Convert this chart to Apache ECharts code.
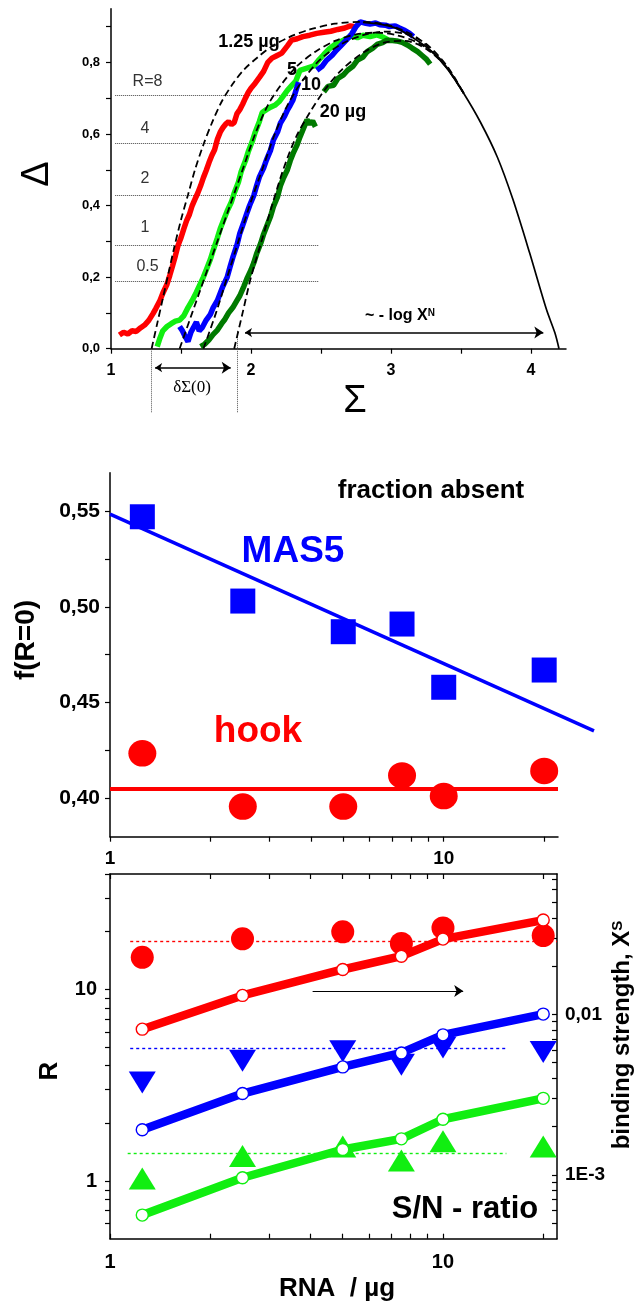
<!DOCTYPE html>
<html>
<head>
<meta charset="utf-8">
<title>Hook curves, fraction absent and S/N ratio vs RNA amount</title>
<script src="https://cdn.jsdelivr.net/npm/echarts@6.0.0/dist/echarts.min.js"></script>
<style>
  html, body { margin: 0; padding: 0; background: #fff; }
  #chart { width: 636px; height: 1308px; }
</style>
</head>
<body>
<div id="chart"></div>
<script>
// ---------- top panel: Delta vs Sigma, [Sigma, Delta] pairs
const hook125 = [[1.06,0.038],[1.09,0.046],[1.12,0.041],[1.15,0.05],[1.18,0.048],[1.21,0.058],[1.24,0.066],[1.27,0.079],[1.30,0.098],[1.32,0.112],[1.35,0.135],[1.37,0.155],[1.40,0.18],[1.42,0.205],[1.44,0.232],[1.46,0.26],[1.48,0.29],[1.50,0.31],[1.52,0.335],[1.54,0.358],[1.56,0.375],[1.58,0.40],[1.60,0.418],[1.62,0.435],[1.64,0.455],[1.66,0.478],[1.68,0.498],[1.70,0.52],[1.72,0.54],[1.74,0.556],[1.76,0.585],[1.78,0.605],[1.80,0.618],[1.82,0.628],[1.84,0.634],[1.86,0.626],[1.88,0.632],[1.90,0.657],[1.92,0.668],[1.94,0.683],[1.96,0.70],[1.98,0.716],[2.00,0.728],[2.03,0.742],[2.06,0.758],[2.09,0.775],[2.12,0.80],[2.15,0.812],[2.18,0.818],[2.22,0.826],[2.26,0.846],[2.29,0.862],[2.33,0.866],[2.37,0.872],[2.42,0.876],[2.47,0.881],[2.52,0.884],[2.57,0.887],[2.62,0.892],[2.67,0.896],[2.71,0.902],[2.74,0.90]];
const hook5 = [[1.33,0.006],[1.35,0.03],[1.37,0.05],[1.40,0.062],[1.43,0.07],[1.46,0.077],[1.49,0.08],[1.52,0.092],[1.55,0.115],[1.58,0.135],[1.61,0.158],[1.63,0.175],[1.66,0.20],[1.68,0.22],[1.71,0.25],[1.73,0.275],[1.76,0.31],[1.78,0.335],[1.81,0.365],[1.83,0.385],[1.86,0.41],[1.88,0.435],[1.91,0.465],[1.93,0.495],[1.96,0.525],[1.98,0.55],[2.01,0.58],[2.03,0.605],[2.06,0.635],[2.08,0.66],[2.11,0.668],[2.14,0.675],[2.17,0.68],[2.20,0.69],[2.23,0.706],[2.26,0.722],[2.29,0.735],[2.32,0.748],[2.35,0.778],[2.40,0.784],[2.45,0.79],[2.48,0.805],[2.52,0.822],[2.56,0.838],[2.60,0.85],[2.64,0.858],[2.68,0.866],[2.72,0.874],[2.76,0.869],[2.80,0.876],[2.85,0.872],[2.90,0.877],[2.94,0.871],[2.98,0.863]];
const hook10Low = [[1.49,0.062],[1.51,0.05],[1.53,0.034],[1.55,0.02],[1.57,0.045],[1.59,0.06],[1.61,0.074],[1.63,0.05],[1.65,0.058],[1.68,0.08],[1.71,0.096],[1.73,0.115],[1.76,0.135],[1.78,0.155],[1.80,0.175],[1.83,0.20],[1.85,0.228],[1.87,0.255],[1.90,0.29],[1.92,0.322],[1.95,0.355],[1.97,0.378],[1.99,0.40],[2.02,0.428],[2.04,0.455],[2.06,0.48],[2.09,0.505],[2.11,0.527],[2.14,0.555],[2.16,0.583],[2.19,0.606],[2.21,0.63],[2.24,0.65],[2.26,0.667],[2.28,0.68],[2.30,0.695],[2.32,0.72],[2.34,0.745]];
const hook10High = [[2.47,0.778],[2.51,0.79],[2.54,0.806],[2.58,0.82],[2.61,0.834],[2.65,0.85],[2.68,0.862],[2.72,0.88],[2.75,0.90],[2.78,0.913],[2.82,0.909],[2.85,0.907],[2.89,0.91],[2.92,0.905],[2.96,0.904],[2.99,0.90],[3.03,0.902],[3.06,0.896],[3.10,0.889],[3.13,0.882],[3.16,0.872]];
const hook20Low = [[1.64,0.006],[1.67,0.013],[1.70,0.025],[1.73,0.04],[1.76,0.052],[1.79,0.07],[1.81,0.08],[1.84,0.10],[1.87,0.115],[1.90,0.135],[1.92,0.148],[1.95,0.175],[1.97,0.195],[2.00,0.22],[2.02,0.24],[2.04,0.265],[2.07,0.295],[2.09,0.32],[2.11,0.34],[2.14,0.37],[2.16,0.397],[2.19,0.425],[2.21,0.455],[2.23,0.475],[2.26,0.50],[2.28,0.525],[2.30,0.545],[2.33,0.57],[2.35,0.592],[2.38,0.62],[2.40,0.64],[2.42,0.628],[2.44,0.636],[2.46,0.62]];
const hook20High = [[2.52,0.718],[2.55,0.733],[2.59,0.736],[2.62,0.755],[2.66,0.765],[2.69,0.778],[2.73,0.79],[2.76,0.806],[2.80,0.815],[2.83,0.83],[2.87,0.84],[2.90,0.85],[2.94,0.855],[2.97,0.862],[3.01,0.861],[3.04,0.86],[3.08,0.856],[3.12,0.848],[3.15,0.84],[3.19,0.83],[3.22,0.82],[3.25,0.81],[3.28,0.795]];

// dashed fits and the common solid envelope
const fit125 = [[1.29,0],[1.33,0.07],[1.37,0.14],[1.41,0.21],[1.45,0.28],[1.50,0.36],[1.55,0.43],[1.60,0.50],[1.66,0.57],[1.72,0.63],[1.79,0.69],[1.87,0.74],[1.95,0.78],[2.05,0.815],[2.15,0.845],[2.27,0.87],[2.42,0.892],[2.6,0.908],[2.8,0.913],[3.0,0.902],[3.2,0.865],[3.4,0.785],[3.52,0.713]];
const fit5 = [[1.49,0],[1.58,0.1],[1.67,0.2],[1.76,0.3],[1.85,0.4],[1.94,0.5],[2.03,0.6],[2.12,0.68],[2.22,0.74],[2.33,0.79],[2.46,0.83],[2.6,0.86],[2.75,0.878],[2.9,0.883],[3.05,0.875],[3.2,0.853],[3.35,0.81],[3.52,0.713]];
const fit10 = [[1.66,0],[1.75,0.1],[1.83,0.2],[1.91,0.3],[1.99,0.4],[2.08,0.5],[2.17,0.6],[2.26,0.68],[2.37,0.75],[2.5,0.81],[2.65,0.852],[2.8,0.876],[2.95,0.886],[3.1,0.88],[3.25,0.852],[3.4,0.79],[3.52,0.713]];
const fit20 = [[1.88,0],[1.94,0.1],[2.0,0.2],[2.075,0.3],[2.15,0.4],[2.23,0.5],[2.32,0.59],[2.42,0.66],[2.53,0.725],[2.65,0.78],[2.8,0.827],[2.95,0.855],[3.1,0.86],[3.25,0.838],[3.4,0.785],[3.52,0.713]];
const envelope = [[2.8,0.912],[2.92,0.907],[3.04,0.895],[3.16,0.868],[3.28,0.834],[3.4,0.783],[3.52,0.713],[3.64,0.632],[3.76,0.535],[3.87,0.418],[3.99,0.268],[4.11,0.11],[4.17,0.045],[4.2,0.0]];

const rLevels = [0.707, 0.574, 0.429, 0.289, 0.189];
const rLevelNames = ['R=8', '4', '2', '1', '0.5'];
const sigmaMarks = [1.29, 1.90];          // dotted verticals of dSigma(0)
const dSigmaArrow = [1.315, 1.855];
const logXnArrow = [1.957, 4.088];

const sigmaTicks = [1, 1.5, 2, 2.5, 3, 3.5, 4];
const sigmaLabels = [1, 2, 3, 4];
const deltaTicks = [0, 0.1, 0.2, 0.3, 0.4, 0.5, 0.6, 0.7, 0.8, 0.9];
const deltaLabels = [0, 0.2, 0.4, 0.6, 0.8];

// ---------- middle panel: fraction absent
const rnaAmount = [1.25, 2.5, 5, 7.5, 10, 20];
const absentMas5 = [0.547, 0.503, 0.487, 0.491, 0.458, 0.467];
const absentHook = [0.4235, 0.3957, 0.3957, 0.412, 0.4012, 0.4143];
const mas5Fit = [[1, 0.5484], [28.2, 0.4352]];
const hookFit = [[1, 0.405], [22, 0.405]];
const fracTicks = [0.40, 0.425, 0.45, 0.475, 0.50, 0.525, 0.55];
const fracLabels = [0.40, 0.45, 0.50, 0.55];

// ---------- bottom panel: S/N ratio (left) and binding strength (right)
const snRed = [6.2, 9.3, 12.7, 14.9, 18.3, 23.0];
const snBlue = [1.85, 2.86, 3.94, 4.66, 5.79, 7.43];
const snGreen = [0.664, 1.04, 1.46, 1.66, 2.10, 2.70];
const xsRed = [0.0227, 0.0296, 0.0327, 0.0277, 0.0346, 0.0310];
const xsBlue = [0.00377, 0.00515, 0.00589, 0.00486, 0.00621, 0.00584];
const xsGreen = [0.000948, 0.00131, 0.00150, 0.00123, 0.00162, 0.00150];
const xsLevels = [0.0285, 0.00612, 0.00137];
const xsLevelSpan = [[1.15, 22], [1.15, 15.5], [1.13, 15.5]];
const snArrow = [[4.06, 9.8], [11.5, 9.8]];

const rnaTicks = [1, 2, 3, 4, 5, 6, 7, 8, 9, 10, 20];
const rnaLabels = [1, 10];
const rTicks = [0.6, 0.7, 0.8, 0.9, 1, 2, 3, 4, 5, 6, 7, 8, 9, 10, 20, 30, 40];
const rLabels = [1, 10];
const xsTicks = [0.0005, 0.0006, 0.0007, 0.0008, 0.0009, 0.001, 0.002, 0.003, 0.004, 0.005, 0.006, 0.007, 0.008, 0.009, 0.01, 0.02, 0.03, 0.04, 0.05, 0.06, 0.07];
const xsLabels = [0.001, 0.01];
const xsLabelText = { '-3': '1E-3', '-2': '0,01' };

const RNA_MIN = 1, RNA_MAX = 22;
const R_MIN = 0.5, R_MAX = 40;
const XS_MIN = 0.0004, XS_MAX = 0.075;

const RED = '#ff0000', BLUE = '#0000ff', GREEN = '#11ee11', DKGREEN = '#007a00';
const FONT = '"Liberation Sans", Arial, Helvetica, sans-serif';
const lg = Math.log10;

const comma = (d) => (v) => v.toFixed(d).replace('.', ',');

function axisLine() {
  return { show: true, onZero: false, lineStyle: { color: '#000', width: 1.5 } };
}
function ticks(values, inside) {
  return { show: true, inside: !!inside, length: 5, customValues: values, lineStyle: { color: '#000', width: 1.2 } };
}
function labels(values, fmt, size, margin) {
  return { show: true, customValues: values, formatter: fmt, fontFamily: FONT, fontWeight: 'bold',
    fontSize: size, color: '#000', margin: margin };
}
function hidden(type, grid, min, max) {
  return { type: type, gridIndex: grid, min: min, max: max, show: false, logBase: 10,
    axisLine: { onZero: false }, splitLine: { show: false } };
}

const chart = echarts.init(document.getElementById('chart'));

function trace(points, color) {
  return { type: 'line', xAxisIndex: 0, yAxisIndex: 0, data: points, symbol: 'none',
    lineStyle: { color: color, width: 5.5 }, z: 3 };
}
function fit(points) {
  return { type: 'line', xAxisIndex: 0, yAxisIndex: 0, data: points, symbol: 'none', smooth: 0.3,
    lineStyle: { color: '#000', width: 1.8, type: [7, 4] }, z: 4 };
}
function snLine(values, color) {
  return { type: 'line', xAxisIndex: 3, yAxisIndex: 2, data: rnaAmount.map((x, i) => [x, values[i]]),
    symbol: 'circle', symbolSize: 12, showSymbol: true,
    itemStyle: { color: '#fff', borderColor: color, borderWidth: 1.4, opacity: 1 },
    lineStyle: { color: color, width: 8.5 }, z: 5 };
}
function xsPoints(values, color, symbol, size, rotate) {
  return { type: 'scatter', xAxisIndex: 3, yAxisIndex: 4, data: rnaAmount.map((x, i) => [x, values[i]]),
    symbol: symbol, symbolSize: size, symbolRotate: rotate || 0, itemStyle: { color: color, opacity: 1 }, z: 3 };
}
function xsLevel(i, color) {
  return { type: 'lines', coordinateSystem: 'cartesian2d', xAxisIndex: 3, yAxisIndex: 4, z: 1,
    lineStyle: { color: color, width: 1.4, type: [3, 3], opacity: 1 },
    data: [{ coords: [[xsLevelSpan[i][0], xsLevels[i]], [xsLevelSpan[i][1], xsLevels[i]]] }] };
}

function text(str, x, y, size, opts) {
  opts = opts || {};
  return {
    type: 'text', x: x, y: y, rotation: opts.rotate || 0, z: 100,
    style: {
      text: str, fill: opts.color || '#000',
      font: (opts.bold === false ? '' : 'bold ') + size + 'px ' + (opts.family || FONT),
      textAlign: opts.align || 'center', textVerticalAlign: 'middle',
      align: opts.align || 'center', verticalAlign: 'middle',
      rich: opts.rich
    }
  };
}

const option = {
  animation: false,
  backgroundColor: '#fff',
  grid: [
    { left: 111, top: 8.7, width: 455, height: 340 },
    { left: 110, top: 472.7, width: 448, height: 364 },
    { left: 110, top: 874, width: 447, height: 364.7 }
  ],
  xAxis: [
    { type: 'value', gridIndex: 0, min: 1, max: 4.25, position: 'bottom',
      axisLine: axisLine(), axisTick: ticks(sigmaTicks), splitLine: { show: false },
      axisLabel: labels(sigmaLabels, (v) => String(v), 16, 14) },
    hidden('log', 1, RNA_MIN, RNA_MAX),
    { type: 'value', gridIndex: 1, min: 0, max: lg(RNA_MAX), position: 'bottom',
      axisLine: axisLine(), axisTick: ticks(rnaTicks.map(lg)), splitLine: { show: false },
      axisLabel: labels(rnaLabels.map(lg), (v) => String(Math.round(Math.pow(10, v))), 19, 13) },
    hidden('log', 2, RNA_MIN, RNA_MAX),
    { type: 'value', gridIndex: 2, min: 0, max: lg(RNA_MAX), position: 'bottom',
      axisLine: axisLine(), axisTick: ticks(rnaTicks.map(lg), true), splitLine: { show: false },
      axisLabel: labels(rnaLabels.map(lg), (v) => String(Math.round(Math.pow(10, v))), 20, 14) },
    { type: 'value', gridIndex: 2, min: 0, max: lg(RNA_MAX), position: 'top',
      axisLine: axisLine(), axisTick: ticks(rnaTicks.map(lg), true), splitLine: { show: false },
      axisLabel: { show: false } }
  ],
  yAxis: [
    { type: 'value', gridIndex: 0, min: 0, max: 0.95, position: 'left',
      axisLine: axisLine(), axisTick: ticks(deltaTicks), splitLine: { show: false },
      axisLabel: labels(deltaLabels, comma(1), 13, 11) },
    { type: 'value', gridIndex: 1, min: 0.38, max: 0.57, position: 'left',
      axisLine: axisLine(), axisTick: ticks(fracTicks), splitLine: { show: false },
      axisLabel: labels(fracLabels, comma(2), 21, 10) },
    hidden('log', 2, R_MIN, R_MAX),
    { type: 'value', gridIndex: 2, min: lg(R_MIN), max: lg(R_MAX), position: 'left',
      axisLine: axisLine(), axisTick: ticks(rTicks.map(lg)), splitLine: { show: false },
      axisLabel: labels(rLabels.map(lg), (v) => String(Math.round(Math.pow(10, v))), 20, 13) },
    hidden('log', 2, XS_MIN, XS_MAX),
    { type: 'value', gridIndex: 2, min: lg(XS_MIN), max: lg(XS_MAX), position: 'right',
      axisLine: axisLine(), axisTick: ticks(xsTicks.map(lg), true), splitLine: { show: false },
      axisLabel: labels(xsLabels.map(lg), (v) => xsLabelText[String(Math.round(v))], 19, 8) }
  ],
  series: [
    // ----- top panel
    { type: 'lines', coordinateSystem: 'cartesian2d', xAxisIndex: 0, yAxisIndex: 0, z: 1,
      lineStyle: { color: '#444', width: 1, type: 'dotted', opacity: 1 },
      data: rLevels.map((v) => ({ coords: [[1.03, v], [2.48, v]] })) },
    { type: 'lines', coordinateSystem: 'cartesian2d', xAxisIndex: 0, yAxisIndex: 0, z: 1, clip: false,
      lineStyle: { color: '#555', width: 1, type: 'dotted', opacity: 1 },
      data: sigmaMarks.map((s, i) => ({ coords: [[s, i === 0 ? 0 : 0.05], [s, -0.18]] })) },
    trace(hook125, RED),
    trace(hook5, GREEN),
    trace(hook10Low, BLUE),
    trace(hook10High, BLUE),
    trace(hook20Low, DKGREEN),
    trace(hook20High, DKGREEN),
    fit(fit125), fit(fit5), fit(fit10), fit(fit20),
    { type: 'line', xAxisIndex: 0, yAxisIndex: 0, data: envelope, symbol: 'none', smooth: 0.3,
      lineStyle: { color: '#000', width: 1.7 }, z: 4 },
    { type: 'lines', coordinateSystem: 'cartesian2d', xAxisIndex: 0, yAxisIndex: 0, clip: false, z: 6,
      symbol: ['arrow', 'arrow'], symbolSize: [7, 9],
      lineStyle: { color: '#000', width: 1.5, opacity: 1 },
      data: [
        { coords: [[dSigmaArrow[0], -0.053], [dSigmaArrow[1], -0.053]] },
        { coords: [[logXnArrow[0], 0.045], [logXnArrow[1], 0.045]] }
      ] },

    // ----- middle panel
    { type: 'lines', coordinateSystem: 'cartesian2d', xAxisIndex: 1, yAxisIndex: 1, clip: false, z: 2,
      lineStyle: { color: RED, width: 4, opacity: 1 }, data: [{ coords: hookFit }] },
    { type: 'lines', coordinateSystem: 'cartesian2d', xAxisIndex: 1, yAxisIndex: 1, clip: false, z: 2,
      lineStyle: { color: BLUE, width: 3.5, opacity: 1 }, data: [{ coords: mas5Fit }] },
    { type: 'scatter', xAxisIndex: 1, yAxisIndex: 1, data: rnaAmount.map((x, i) => [x, absentMas5[i]]),
      symbol: 'rect', symbolSize: 25, itemStyle: { color: BLUE, opacity: 1 }, z: 3 },
    { type: 'scatter', xAxisIndex: 1, yAxisIndex: 1, data: rnaAmount.map((x, i) => [x, absentHook[i]]),
      symbol: 'circle', symbolSize: [28, 26.5], itemStyle: { color: RED, opacity: 1 }, z: 3 },

    // ----- bottom panel
    xsLevel(0, RED),
    xsLevel(1, BLUE),
    xsLevel(2, GREEN),
    xsPoints(xsRed, RED, 'circle', 23),
    xsPoints(xsBlue, BLUE, 'triangle', [27, 22], 180),
    xsPoints(xsGreen, GREEN, 'triangle', [27, 22]),
    snLine(snRed, RED),
    snLine(snBlue, BLUE),
    snLine(snGreen, GREEN),
    { type: 'lines', coordinateSystem: 'cartesian2d', xAxisIndex: 3, yAxisIndex: 2, z: 6,
      symbol: ['none', 'arrow'], symbolSize: [7, 9],
      lineStyle: { color: '#000', width: 1.2, opacity: 1 },
      data: [{ coords: snArrow }] }
  ],
  graphic: [
    // top panel
    text('\u0394', 38, 174, 38, { rotate: Math.PI / 2, bold: false }),
    text('\u03A3', 355, 402, 38, { bold: false }),
    ...rLevelNames.map((n, i) => text(n, n.length > 1 ? 134 + n.length * 4.5 : 145, [82, 129, 179, 228, 267][i], 16,
      { bold: false, color: '#333' })),
    text('1.25 \u00B5g', 249, 42, 18),
    text('5', 292, 70, 18),
    text('10', 311, 85, 18),
    text('20 \u00B5g', 343, 112, 18),
    text('{a|~ - log X}{b|N}', 400, 316, 16, { rich: {
      a: { font: 'bold 16px ' + FONT, fill: '#000' },
      b: { font: 'bold 10px ' + FONT, fill: '#000', verticalAlign: 'top' } } }),
    text('\u03B4\u03A3(0)', 192, 388, 17, { bold: false, family: '"Liberation Serif", "DejaVu Serif", serif' }),
    // middle panel
    text('fraction absent', 431, 491, 26),
    text('MAS5', 293, 552, 37, { color: BLUE }),
    text('hook', 258, 732, 37, { color: RED }),
    text('f(R=0)', 26, 640, 28, { rotate: Math.PI / 2 }),
    // bottom panel
    text('R', 50, 1071, 26, { rotate: Math.PI / 2 }),
    text('{a|binding strength, X}{b|S}', 622, 1035, 24, { rotate: Math.PI / 2, rich: {
      a: { font: 'bold 24px ' + FONT, fill: '#000' },
      b: { font: 'bold 15px ' + FONT, fill: '#000', verticalAlign: 'top' } } }),
    text('S/N - ratio', 465, 1209, 31),
    text('RNA  / \u00B5g', 337, 1289, 26)
  ]
};

chart.setOption(option);
</script>
</body>
</html>
